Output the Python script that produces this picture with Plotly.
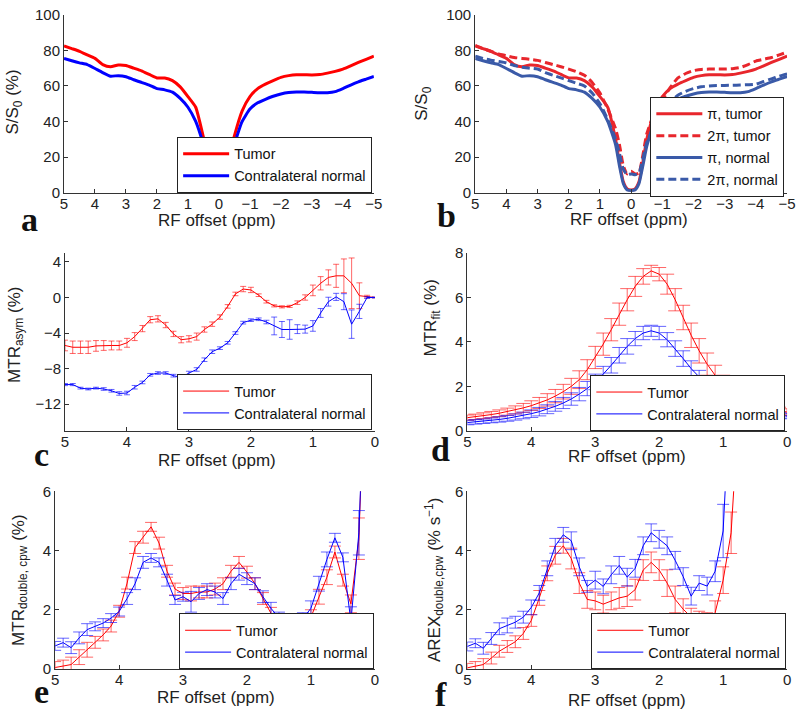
import plotly.graph_objects as go

W, H = 800, 718

# ---------------- panel a / b data ----------------
x_ab = [5, 4.75, 4.5, 4.25, 4, 3.75, 3.5, 3.25, 3, 2.75, 2.5, 2.25, 2, 1.75, 1.5, 1.25, 1, 0.75, 0.5,
        0.375, 0.25, 0.125, 0, -0.125, -0.25, -0.375,
        -0.5, -0.75, -1, -1.25, -1.5, -1.75, -2, -2.25, -2.5, -2.75, -3, -3.25, -3.5, -3.75, -4, -4.25, -4.5, -4.75, -5]

a_tumor = [82.5, 81, 79.5, 77.5, 75.5, 72, 70.8, 71.8, 71.5, 70, 68.5, 66.5, 64.5, 64.5, 63, 59.5, 54, 48, 31,
           22, 13, 5, 2, 5, 14, 23,
           32, 46, 54, 58.5, 61, 63, 64.8, 65.8, 66.3, 66.3, 66.2, 66.4, 67.2, 68.2, 69.5, 71.3, 73.2, 75, 76.8]
a_normal = [75.5, 74.2, 73, 72, 69.8, 67.5, 65.5, 65.8, 65.2, 63.5, 62, 60.5, 58.5, 57.8, 56.5, 53, 48, 40, 27,
            19, 11, 4, 1.5, 4, 11, 19,
            27, 40, 47, 50.5, 52.5, 54.2, 55.5, 56.3, 56.6, 56.6, 56.4, 56.2, 56.2, 56.8, 58.5, 60.5, 62.3, 63.8, 65.3]

b_pi_tumor = [82.5, 81, 79.5, 77.5, 75.5, 72, 70.8, 71.8, 71.5, 70, 68.5, 66.5, 64.5, 64.5, 63, 59.5, 54, 48, 30,
              17, 6, 2, 1.5, 2, 6, 17,
              30, 46, 54, 58.5, 61, 63, 64.8, 65.8, 66.3, 66.3, 66.2, 66.4, 67.2, 68.2, 69.5, 71.3, 73.2, 75, 76.8]
b_2pi_tumor = [82.8, 81, 79.5, 78, 77, 76, 75.5, 75, 74.4, 73.2, 72, 70.8, 69.5, 68, 66, 62, 56, 47, 36,
               27, 15, 10.5, 12, 10.5, 11, 21,
               33, 45, 52, 59, 64.5, 67, 68.6, 69.3, 69.5, 69.5, 69.5, 69.7, 70.4, 72, 74, 75, 76, 77.5, 79]
b_pi_normal = [75.5, 74.2, 73, 72, 69.8, 67.5, 65.5, 65.8, 65.2, 63.5, 62, 60.5, 58.5, 57.8, 56.5, 53, 48, 40, 27,
               15, 5, 1.5, 1.2, 1.5, 5, 15,
               26, 40, 47, 50.5, 52.5, 54.2, 55.5, 56.3, 56.6, 56.6, 56.4, 56.2, 56.2, 56.8, 58.5, 60.5, 62.3, 63.8, 65.3]
b_2pi_normal = [76.8, 75.5, 74.5, 73.8, 73, 71.5, 70.5, 70, 69.5, 67.5, 66, 64.5, 63, 61.5, 60, 56, 50, 41, 30,
                22, 13, 10, 10.5, 10, 11, 19,
                28, 38, 46, 51, 54.8, 57, 58.5, 59.5, 60, 60.2, 60.3, 60.4, 60.5, 60.7, 61, 62.5, 64, 65.5, 66.8]

# ---------------- panels c-f data (0.125 ppm grid) ----------------
x_cf = [5, 4.875, 4.75, 4.625, 4.5, 4.375, 4.25, 4.125, 4, 3.875, 3.75, 3.625, 3.5, 3.375, 3.25, 3.125,
        3, 2.875, 2.75, 2.625, 2.5, 2.375, 2.25, 2.125, 2, 1.875, 1.75, 1.625, 1.5, 1.375, 1.25, 1.125,
        1, 0.875, 0.75, 0.625, 0.5, 0.375, 0.25, 0.125, 0]

c_tumor = [-5.4, -5.6, -5.6, -5.6, -5.45, -5.4, -5.4, -5.4, -5.1, -4.4, -3.5, -2.5, -2.4, -3.1, -4.1, -4.75,
           -4.65, -4.4, -3.6, -3.0, -2.2, -1.0, 0.4, 0.95, 0.85, 0.26, -0.47, -0.94, -1.05, -1.0, -0.58, 0.0,
           0.8, 1.6, 2.26, 2.44, 2.44, 1.6, 0.2, 0.1, 0.0]
c_tumor_err = [0.6, 0.7, 0.7, 0.7, 0.6, 0.55, 0.5, 0.5, 0.5, 0.45, 0.35, 0.35, 0.35, 0.3, 0.3, 0.35,
               0.35, 0.4, 0.3, 0.25, 0.25, 0.2, 0.2, 0.3, 0.3, 0.15, 0.15, 0.12, 0.12, 0.12, 0.2, 0.3,
               0.6, 0.75, 0.85, 1.3, 1.9, 2.85, 1.45, 0.15, 0.05]
c_normal = [-9.8, -9.8, -10.2, -10.3, -10.2, -10.3, -10.5, -10.8, -10.75, -10.1, -9.56, -8.7, -8.5, -8.5, -8.8, -9.0,
            -8.5, -8.1, -7.0, -6.1, -5.7, -5.1, -4.0, -2.83, -2.55, -2.45, -2.76, -3.2, -3.6, -3.6, -3.56, -3.56,
            -3.2, -1.74, -0.47, 0.07, -0.47, -3.0, -1.56, 0.0, 0.0]
c_normal_err = [0.12, 0.12, 0.1, 0.1, 0.1, 0.15, 0.15, 0.2, 0.2, 0.2, 0.15, 0.15, 0.15, 0.15, 0.15, 0.15,
                0.2, 0.2, 0.2, 0.2, 0.15, 0.15, 0.15, 0.15, 0.15, 0.15, 0.2, 1.0, 0.9, 1.1, 0.5, 0.45,
                0.6, 0.5, 0.5, 0.4, 0.9, 1.6, 0.8, 0.1, 0.05]

d_tumor = [0.59, 0.63, 0.68, 0.73, 0.79, 0.86, 0.94, 1.03, 1.13, 1.25, 1.39, 1.56, 1.76, 2.0, 2.3, 2.75,
           3.3, 3.9, 4.55, 5.25, 5.9, 6.5, 6.95, 7.2, 7.05, 6.6, 5.9, 5.1, 4.3, 3.6, 3.0, 2.5,
           2.1, 1.8, 1.55, 1.35, 1.2, 1.08, 0.98, 0.9, 0.84]
d_tumor_err = [0.12, 0.12, 0.13, 0.14, 0.15, 0.16, 0.18, 0.2, 0.22, 0.25, 0.28, 0.3, 0.33, 0.36, 0.4, 0.45,
               0.5, 0.5, 0.5, 0.5, 0.5, 0.45, 0.35, 0.25, 0.3, 0.45, 0.5, 0.55, 0.55, 0.55, 0.5, 0.45,
               0.4, 0.35, 0.3, 0.25, 0.22, 0.2, 0.18, 0.16, 0.15]
d_normal = [0.37, 0.40, 0.43, 0.47, 0.51, 0.56, 0.62, 0.69, 0.77, 0.86, 0.97, 1.1, 1.25, 1.43, 1.65, 1.9,
            2.2, 2.55, 2.95, 3.4, 3.8, 4.15, 4.4, 4.5, 4.4, 4.1, 3.7, 3.25, 2.8, 2.4, 2.05, 1.75,
            1.5, 1.3, 1.12, 1.0, 0.9, 0.82, 0.75, 0.7, 0.66]
d_normal_err = [0.1, 0.1, 0.1, 0.11, 0.12, 0.13, 0.14, 0.15, 0.17, 0.19, 0.2, 0.22, 0.25, 0.28, 0.3, 0.32,
                0.35, 0.35, 0.35, 0.35, 0.35, 0.32, 0.3, 0.25, 0.3, 0.32, 0.35, 0.35, 0.35, 0.32, 0.3, 0.28,
                0.25, 0.22, 0.2, 0.18, 0.16, 0.15, 0.14, 0.13, 0.12]

e_tumor = [0.05, 0.1, 0.15, 0.4, 0.65, 0.9, 1.15, 1.45, 1.95, 2.9, 4.1, 4.45, 4.8, 4.25, 3.3, 2.7,
           2.55, 2.55, 2.6, 2.6, 2.7, 2.88, 3.3, 3.6, 3.27, 2.88, 2.38, 1.88, 1.5, 1.25, 1.15, 1.3,
           1.75, 2.44, 3.1, 3.95, 3.0, 2.2, 4.4, 12, None]
e_tumor_err = [0.2, 0.2, 0.25, 0.25, 0.25, 0.2, 0.2, 0.2, 0.2, 0.2, 0.2, 0.2, 0.15, 0.2, 0.2, 0.2,
               0.2, 0.25, 0.2, 0.2, 0.2, 0.2, 0.2, 0.2, 0.2, 0.2, 0.2, 0.2, 0.2, 0.2, 0.2, 0.2,
               0.25, 0.25, 0.25, 0.2, 0.2, 0.3, 0.7, 0.7, None]
e_normal = [0.78, 0.89, 0.72, 1.05, 1.33, 1.44, 1.55, 1.72, 1.94, 2.38, 2.88, 3.6, 3.75, 3.6, 3.0, 2.33,
            2.44, 2.27, 2.55, 2.68, 2.6, 2.38, 2.88, 3.2, 3.05, 2.88, 2.44, 2.05, 1.72, 1.6, 1.55, 1.7,
            2.05, 2.88, 3.7, 4.43, 3.77, 1.6, 4.6, 12, None]
e_normal_err = [0.15, 0.15, 0.2, 0.2, 0.2, 0.15, 0.15, 0.15, 0.15, 0.2, 0.2, 0.2, 0.15, 0.15, 0.2, 0.15,
                0.15, 0.35, 0.2, 0.2, 0.2, 0.2, 0.2, 0.2, 0.2, 0.2, 0.2, 0.2, 0.2, 0.2, 0.2, 0.2,
                0.25, 0.25, 0.25, 0.15, 0.15, 0.5, 0.75, 0.7, None]

f_tumor = [0.04, 0.1, 0.15, 0.37, 0.6, 0.76, 0.92, 1.2, 1.64, 2.4, 3.23, 3.84, 4.16, 3.73, 2.9, 2.35,
           2.3, 2.19, 2.3, 2.4, 2.46, 2.68, 3.34, 3.6, 3.34, 2.9, 2.35, 2.02, 1.75, 1.65, 1.6, 1.9,
           3.0, 4.6, 9, None, None, None, None, None, None]
f_tumor_err = [0.15, 0.15, 0.2, 0.2, 0.2, 0.2, 0.2, 0.2, 0.2, 0.25, 0.25, 0.3, 0.25, 0.35, 0.35, 0.3,
               0.3, 0.3, 0.3, 0.35, 0.35, 0.35, 0.35, 0.35, 0.35, 0.45, 0.45, 0.35, 0.3, 0.3, 0.3, 0.4,
               0.45, 0.7, 0.8, None, None, None, None, None, None]
f_normal = [0.76, 0.87, 0.7, 1.03, 1.36, 1.47, 1.58, 1.75, 2.08, 2.57, 3.4, 4.16, 4.53, 4.33, 3.45, 2.79,
            3.0, 2.79, 3.18, 3.5, 3.1, 3.4, 4.16, 4.6, 4.38, 4.16, 3.67, 3.12, 2.46, 2.9, 2.8, 3.3,
            4.66, 10, None, None, None, None, None, None, None]
f_normal_err = [0.15, 0.15, 0.2, 0.2, 0.2, 0.25, 0.2, 0.2, 0.25, 0.25, 0.25, 0.25, 0.25, 0.3, 0.3, 0.2,
                0.3, 0.25, 0.3, 0.3, 0.3, 0.3, 0.3, 0.3, 0.3, 0.3, 0.3, 0.3, 0.3, 0.25, 0.3, 0.35,
                0.9, 0.8, None, None, None, None, None, None, None]

ticks_ab = [5, 4, 3, 2, 1, 0, -1, -2, -3, -4, -5]
ticks_cf = [5, 4, 3, 2, 1, 0]

FONT = "Liberation Sans"
RED, BLUE = "#ff0000", "#0000ff"
RED_B, BLUE_B = "#e8262c", "#3a5aa8"
RED_E, BLUE_E = "rgba(255,0,0,0.6)", "rgba(0,0,255,0.6)"

fig = go.Figure()


def line(x, y, color, width, name, n, legend, dash="solid", spline=False):
    fig.add_trace(go.Scatter(
        x=x, y=y, mode="lines", name=name,
        line=dict(color=color, width=width, dash=dash,
                  shape="spline" if spline else "linear", smoothing=0.5),
        xaxis="x" + ("" if n == 1 else str(n)), yaxis="y" + ("" if n == 1 else str(n)),
        legend=legend, connectgaps=False))


def errline(x, y, err, color, ecolor, capw, name, n, legend):
    fig.add_trace(go.Scatter(
        x=x, y=y, mode="lines", name=name,
        line=dict(color=color, width=1),
        error_y=dict(type="data", array=err, visible=True, color=ecolor, thickness=1, width=capw),
        xaxis="x" + str(n), yaxis="y" + str(n), legend=legend))


DASH = "8px,4px"
# a
line(x_ab, a_tumor, RED, 3, "Tumor", 1, "legend", spline=True)
line(x_ab, a_normal, BLUE, 3, "Contralateral normal", 1, "legend", spline=True)
# b
line(x_ab, b_pi_tumor, RED_B, 3, "π, tumor", 2, "legend2", spline=True)
line(x_ab, b_2pi_tumor, RED_B, 3, "2π, tumor", 2, "legend2", dash=DASH, spline=True)
line(x_ab, b_pi_normal, BLUE_B, 3, "π, normal", 2, "legend2", spline=True)
line(x_ab, b_2pi_normal, BLUE_B, 3, "2π, normal", 2, "legend2", dash=DASH, spline=True)
# c
errline(x_cf, c_tumor, c_tumor_err, RED, RED_E, 3, "Tumor", 3, "legend3")
errline(x_cf, c_normal, c_normal_err, BLUE, BLUE_E, 3, "Contralateral normal", 3, "legend3")
# d
errline(x_cf, d_tumor, d_tumor_err, RED, RED_E, 7, "Tumor", 4, "legend4")
errline(x_cf, d_normal, d_normal_err, BLUE, BLUE_E, 7, "Contralateral normal", 4, "legend4")
# e
errline(x_cf, e_tumor, e_tumor_err, RED, RED_E, 6, "Tumor", 5, "legend5")
errline(x_cf, e_normal, e_normal_err, BLUE, BLUE_E, 6, "Contralateral normal", 5, "legend5")
# f
errline(x_cf, f_tumor, f_tumor_err, RED, RED_E, 6, "Tumor", 6, "legend6")
errline(x_cf, f_normal, f_normal_err, BLUE, BLUE_E, 6, "Contralateral normal", 6, "legend6")

# panel boxes in pixels: (x0, x1, y0_top, y1_bottom)
boxes = {
    1: (61, 376, 6, 188),
    2: (479, 796, 6, 188),
    3: (62, 377, 250, 432),
    4: (471, 796, 250, 432),
    5: (52, 377, 494, 676),
    6: (471, 796, 494, 676),
}
xranges = {1: [5, -5], 2: [5, -5], 3: [5, 0], 4: [5, 0], 5: [5, 0], 6: [5, 0]}
yranges = {1: [0, 100], 2: [0, 100], 3: [-15, 5], 4: [0, 8], 5: [0, 6], 6: [0, 6]}
yticks = {1: [0, 20, 40, 60, 80, 100], 2: [0, 20, 40, 60, 80, 100], 3: [-12, -8, -4, 0, 4],
          4: [0, 2, 4, 6, 8], 5: [0, 2, 4, 6], 6: [0, 2, 4, 6]}

axcommon = dict(showline=True, linecolor="#333", linewidth=1, ticks="inside", ticklen=4,
                tickcolor="#333", showgrid=False, zeroline=False, mirror=False,
                tickfont=dict(size=15, family=FONT, color="#222"))

layout = dict(width=W, height=H, margin=dict(l=0, r=0, t=0, b=0),
              paper_bgcolor="white", plot_bgcolor="white",
              font=dict(family=FONT, color="#222"))
for n, (x0, x1, y0, y1) in boxes.items():
    sx = "" if n == 1 else str(n)
    layout["xaxis" + sx] = dict(domain=[x0 / W, x1 / W], range=xranges[n], anchor="y" + sx,
                                tickvals=ticks_ab if n <= 2 else ticks_cf, ticklabelstandoff=-3,
                                **axcommon)
    layout["yaxis" + sx] = dict(domain=[1 - y1 / H, 1 - y0 / H], range=yranges[n], anchor="x" + sx,
                                tickvals=yticks[n], **axcommon)

legpos = {"legend": (176, 131), "legend2": (657, 90), "legend3": (176, 374),
          "legend4": (596, 375), "legend5": (178, 619), "legend6": (597, 619)}
for k, (px, py) in legpos.items():
    layout[k] = dict(x=px / W, y=1 - py / H, xanchor="left", yanchor="top", xref="paper", yref="paper",
                     bgcolor="white", bordercolor="#222", borderwidth=1, itemwidth=46,
                     font=dict(size=14.5, family=FONT, color="#111"), tracegroupgap=0)

fig.update_layout(**layout)

ann = []
# panel letters
for letter, px, py in [("a", 15, 216), ("b", 438, 211), ("c", 28, 456), ("d", 432, 451),
                       ("e", 28, 699), ("f", 436, 702)]:
    ann.append(dict(text="<b>%s</b>" % letter, x=px / W, y=1 - py / H, xref="paper", yref="paper",
                    xanchor="left", yanchor="middle", showarrow=False,
                    font=dict(family="Liberation Serif", size=34, color="#111")))
# x titles
for px, py in [(217, 217), (635, 216), (217, 462), (633, 458), (215, 705), (633, 708)]:
    ann.append(dict(text="RF offset (ppm)", x=px / W, y=1 - py / H, xref="paper", yref="paper",
                    xanchor="center", yanchor="middle", showarrow=False,
                    font=dict(family=FONT, size=17, color="#222")))
# y titles
for txt, px, py in [("S/S<sub>0</sub> (%)", 10, 95), ("S/S<sub>0</sub>", 426, 97),
                    ("MTR<sub>asym</sub> (%)", 12, 334), ("MTR<sub>fit</sub> (%)", 435, 316),
                    ("MTR<sub>double, cpw</sub> (%)", 16, 585),
                    ("AREX<sub>double,cpw</sub> (% s<sup>−1</sup>)", 437, 585)]:
    ann.append(dict(text=txt, x=px / W, y=1 - py / H, xref="paper", yref="paper",
                    xanchor="center", yanchor="middle", textangle=-90, showarrow=False,
                    font=dict(family=FONT, size=17, color="#222")))
fig.update_layout(annotations=ann)

fig.write_html("out.html", config={"displayModeBar": False},
               post_script="document.body.style.margin='0';document.body.style.overflow='hidden';")
